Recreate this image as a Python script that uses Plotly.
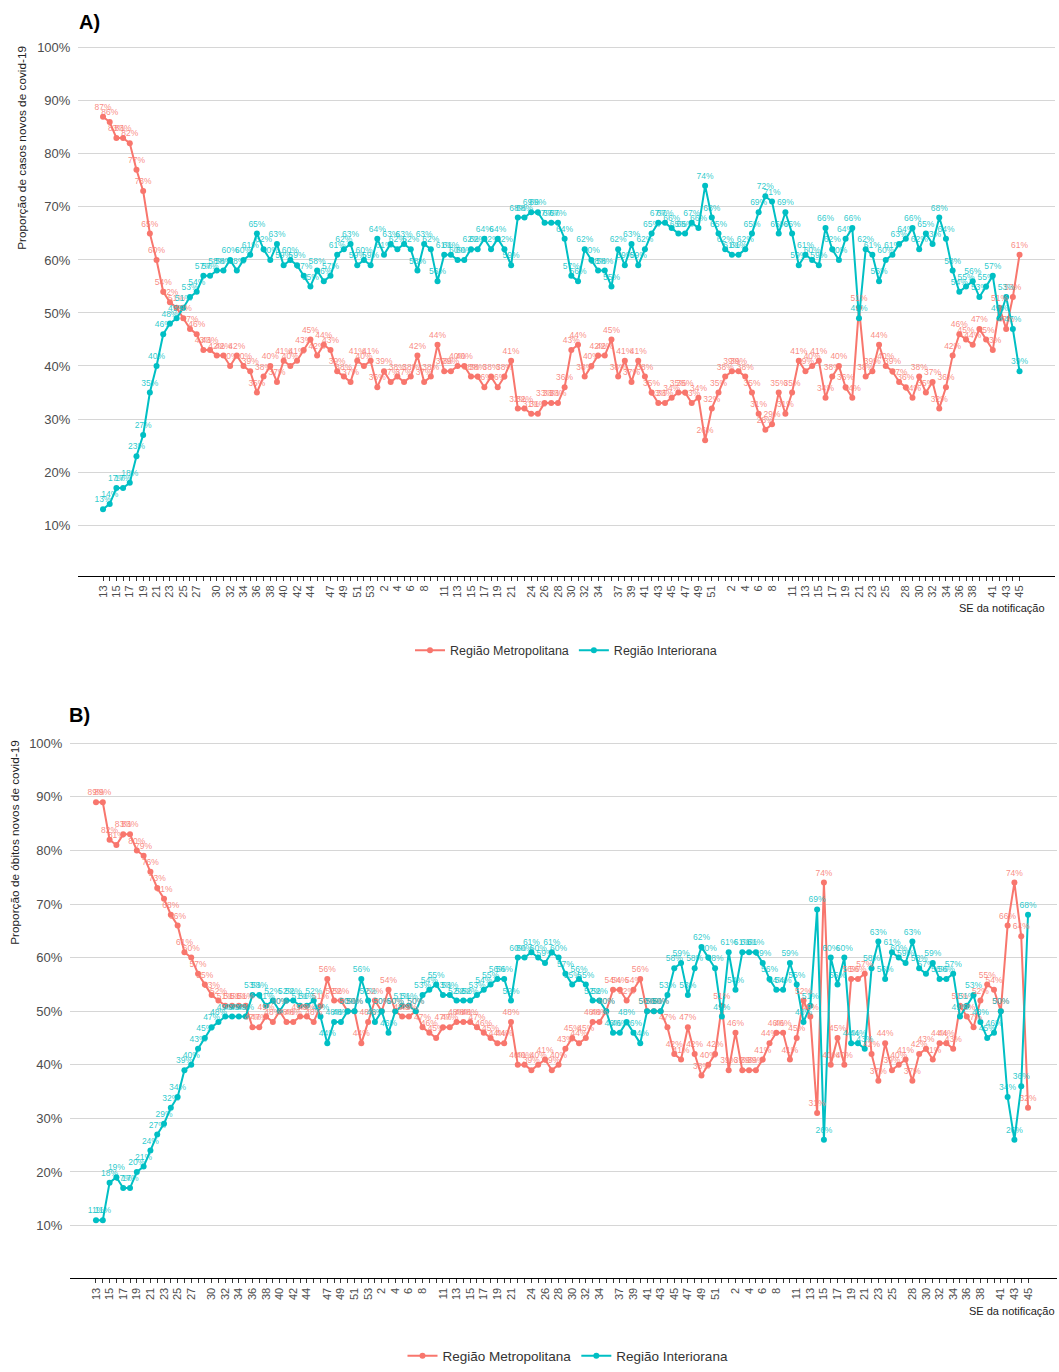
import plotly.graph_objects as go

# ---------------- categories (epidemiological weeks) ----------------
weeks_2020 = list(range(13, 54))
weeks_2021 = list(range(1, 53))
weeks_2022 = list(range(1, 46))

shown_2020 = [13, 15, 17, 19, 21, 23, 25, 27, 30, 32, 34, 36, 38, 40, 42, 44, 47, 49, 51, 53]
shown_2021 = [2, 4, 6, 8, 11, 13, 15, 17, 19, 21, 24, 26, 28, 30, 32, 34, 37, 39, 41, 43, 45, 47, 49, 51]
shown_2022 = [2, 4, 6, 8, 11, 13, 15, 17, 19, 21, 23, 25, 28, 30, 32, 34, 36, 38, 41, 43, 45]

y_ticks = [10, 20, 30, 40, 50, 60, 70, 80, 90, 100]

# ---------------- A) cases ----------------
casos_metropolitana = [
    87, 86, 83, 83, 82, 77, 73, 65, 60, 54, 52, 51,
    49, 47, 46, 43, 43, 42, 42, 40, 42, 40, 39,
    35, 38, 40, 37, 41, 40, 41, 43, 45, 42, 44,
    43, 39, 38, 37, 41, 40, 41, 36, 39, 37, 38,
    37, 38, 42, 37, 38, 44, 39, 39, 40, 40, 38, 38, 36, 38, 36, 38, 41,
    32, 32, 31, 31, 33, 33, 33, 36, 43, 44, 38, 40, 42, 42, 45,
    38, 41, 37, 41, 38, 35, 33, 33, 34, 35, 35, 33, 34,
    26, 32, 35,
    38, 39, 39, 38, 35, 31, 28, 29, 35, 31, 35, 41, 39, 40, 41, 34, 38, 40, 36, 34,
    51, 38, 39, 44, 40, 39, 37, 36, 34, 38, 35, 37, 32, 36, 42, 46, 45, 44, 47, 45, 43,
    51, 47, 53, 61]
casos_interiorana = [
    13, 14, 17, 17, 18, 23, 27, 35, 40, 46, 48, 49,
    51, 53, 54, 57, 57, 58, 58, 60, 58, 60, 61,
    65, 62, 60, 63, 59, 60, 59, 57, 55, 58, 56,
    57, 61, 62, 63, 59, 60, 59, 64, 61, 63, 62,
    63, 62, 58, 63, 62, 56, 61, 61, 60, 60, 62, 62, 64, 62, 64, 62, 59,
    68, 68, 69, 69, 67, 67, 67, 64, 57, 56, 62, 60, 58, 58, 55,
    62, 59, 63, 59, 62, 65, 67, 67, 66, 65, 65, 67, 66,
    74, 68, 65,
    62, 61, 61, 62, 65, 69, 72, 71, 65, 69, 65, 59, 61, 60, 59, 66, 62, 60, 64, 66,
    49, 62, 61, 56, 60, 61, 63, 64, 66, 62, 65, 63, 68, 64, 58, 54, 55, 56, 53, 55, 57,
    49, 53, 47, 39]

# ---------------- B) deaths ----------------
obitos_metropolitana = [
    89, 89, 82, 81, 83, 83, 80, 79, 76, 73, 71, 68, 66, 61, 60, 57, 55, 53, 52, 51, 51, 51, 51,
    47, 47, 49, 48, 50, 48, 48, 49, 49, 48, 51, 56, 52, 52, 50, 50, 44, 48, 52, 50, 54, 50,
    49, 49, 50, 47, 46, 45, 47, 47, 48, 48, 48, 47, 46, 45, 44, 44, 48, 40, 40, 39, 40, 41, 39, 40,
    43, 45, 44, 45, 48, 48, 50, 54, 54, 52, 54, 56, 50, 50, 50, 47, 42, 41, 47, 42, 38, 40, 42,
    51, 39, 46, 39, 39, 39, 41, 44, 46, 46, 41, 45, 52, 49, 31, 74, 40, 45, 40, 56, 56, 57, 42, 37,
    44, 39, 40, 41, 37, 42, 43, 41, 44, 44, 43, 51, 49, 47, 52, 55, 54, 50, 66, 74, 64, 32]
obitos_interiorana = [
    11, 11, 18, 19, 17, 17, 20, 21, 24, 27, 29, 32, 34, 39, 40, 43, 45, 47, 48, 49, 49, 49, 49,
    53, 53, 51, 52, 50, 52, 52, 51, 51, 52, 49, 44, 48, 48, 50, 50, 56, 52, 48, 50, 46, 50,
    51, 51, 50, 53, 54, 55, 53, 53, 52, 52, 52, 53, 54, 55, 56, 56, 52, 60, 60, 61, 60, 59, 61, 60,
    57, 55, 56, 55, 52, 52, 50, 46, 46, 48, 46, 44, 50, 50, 50, 53, 58, 59, 53, 58, 62, 60, 58,
    49, 61, 54, 61, 61, 61, 59, 56, 54, 54, 59, 55, 48, 51, 69, 26, 60, 55, 60, 44, 44, 43, 58, 63,
    56, 61, 60, 59, 63, 58, 57, 59, 56, 56, 57, 49, 51, 53, 48, 45, 46, 50, 34, 26, 36, 68]

series_names = ["Região Metropolitana", "Região Interiorana"]
series_colors = ["#F8766D", "#00BFC4"]
text_colors = ["rgba(248,118,109,0.85)", "rgba(0,191,196,0.85)"]

# ---------------- helpers ----------------
ticktext = []
for weeks, shown in ((weeks_2020, shown_2020), (weeks_2021, shown_2021), (weeks_2022, shown_2022)):
    for w in weeks:
        ticktext.append(str(w) if w in shown else "")
n_cat = len(ticktext)
idx = list(range(n_cat))

W, H = 1059, 1372
FONT = "Liberation Sans, Arial, sans-serif"


def px_x(p):
    return p / W


def px_y(p):
    return 1 - p / H


fig = go.Figure()

panels = [
    ("x", "y", "legend", [casos_metropolitana, casos_interiorana]),
    ("x2", "y2", "legend2", [obitos_metropolitana, obitos_interiorana]),
]

for xa, ya, leg, data in panels:
    for name, col, vals in zip(series_names, series_colors, data):
        xs = idx[:len(vals)]
        fig.add_trace(go.Scatter(
            x=xs, y=vals, mode="lines+markers", name=name,
            line=dict(color=col, width=2), marker=dict(color=col, size=6),
            xaxis=xa, yaxis=ya, legend=leg, hoverinfo="skip"))
    for name, tcol, vals in zip(series_names, text_colors, data):
        xs = idx[:len(vals)]
        fig.add_trace(go.Scatter(
            x=xs, y=vals, mode="markers+text", text=[f"{v}%" for v in vals],
            textposition="top center",
            textfont=dict(size=8.5, color=tcol, family=FONT),
            marker=dict(size=6, color="rgba(0,0,0,0)"),
            showlegend=False, xaxis=xa, yaxis=ya, hoverinfo="skip"))


def xaxis_cfg(domain, rng, anchor):
    return dict(domain=domain, range=rng, anchor=anchor,
                tickmode="array", tickvals=idx, ticktext=ticktext, tickangle=-90,
                ticks="outside", ticklen=4, tickwidth=1, tickcolor="#333333",
                showline=True, linecolor="#000000", linewidth=1.3,
                showgrid=False, zeroline=False, automargin=False,
                tickfont=dict(size=11, color="#4d4d4d", family=FONT))


def yaxis_cfg(domain, rng, anchor):
    return dict(domain=domain, range=rng, anchor=anchor,
                tickmode="array", tickvals=y_ticks, ticktext=[f"{v}%" for v in y_ticks],
                ticks="outside", ticklen=4, tickcolor="rgba(0,0,0,0)",
                showline=False, showgrid=True, gridcolor="#d6d6d6", gridwidth=1,
                zeroline=False, automargin=False,
                tickfont=dict(size=13, color="#4d4d4d", family=FONT))


fig.update_layout(
    width=W, height=H,
    margin=dict(l=0, r=0, t=0, b=0),
    paper_bgcolor="white", plot_bgcolor="white",
    font=dict(family=FONT, color="#333333"),
    xaxis=xaxis_cfg([px_x(78), px_x(1055)], [-3.74, 142.3], "y"),
    yaxis=yaxis_cfg([px_y(578), px_y(44)], [0.42, 100.75], "x"),
    xaxis2=xaxis_cfg([px_x(70), px_x(1057)], [-3.82, 141.26], "y2"),
    yaxis2=yaxis_cfg([px_y(1283), px_y(742)], [0.15, 100.74], "x2"),
    legend=dict(orientation="h", x=px_x(566), xanchor="center", y=px_y(653), yanchor="middle",
                font=dict(size=12.5, color="#333333", family=FONT), bgcolor="rgba(0,0,0,0)"),
    legend2=dict(orientation="h", x=px_x(568), xanchor="center", y=px_y(1361), yanchor="middle",
                 font=dict(size=13.5, color="#333333", family=FONT), bgcolor="rgba(0,0,0,0)"),
    showlegend=True,
)

annotations = [
    dict(text="<b>A)</b>", x=px_x(77), y=px_y(22), xanchor="left", yanchor="middle",
         font=dict(size=20, color="#000000", family=FONT)),
    dict(text="<b>B)</b>", x=px_x(67), y=px_y(718), xanchor="left", yanchor="middle",
         font=dict(size=20, color="#000000", family=FONT)),
    dict(text="Proporção de casos novos de covid-19", textangle=-90,
         x=px_x(22), y=px_y(44), xanchor="center", yanchor="top",
         font=dict(size=11.8, color="#222222", family=FONT)),
    dict(text="Proporção de óbitos novos de covid-19", textangle=-90,
         x=px_x(15), y=px_y(741), xanchor="center", yanchor="top",
         font=dict(size=11.8, color="#222222", family=FONT)),
    dict(text="SE da notificação", x=px_x(1047), y=px_y(610), xanchor="right", yanchor="middle",
         font=dict(size=11, color="#222222", family=FONT)),
    dict(text="SE da notificação", x=px_x(1057), y=px_y(1316), xanchor="right", yanchor="middle",
         font=dict(size=11, color="#222222", family=FONT)),
]
for a in annotations:
    a.update(xref="paper", yref="paper", showarrow=False)
fig.update_layout(annotations=annotations)

# remove the default page margin so the 1059x1372 figure fills the window exactly
page_fix = ("document.body.style.margin='0';document.body.style.padding='0';"
            "document.documentElement.style.overflow='hidden';")
fig.write_html("out.html", post_script=page_fix, config={"displayModeBar": False})
